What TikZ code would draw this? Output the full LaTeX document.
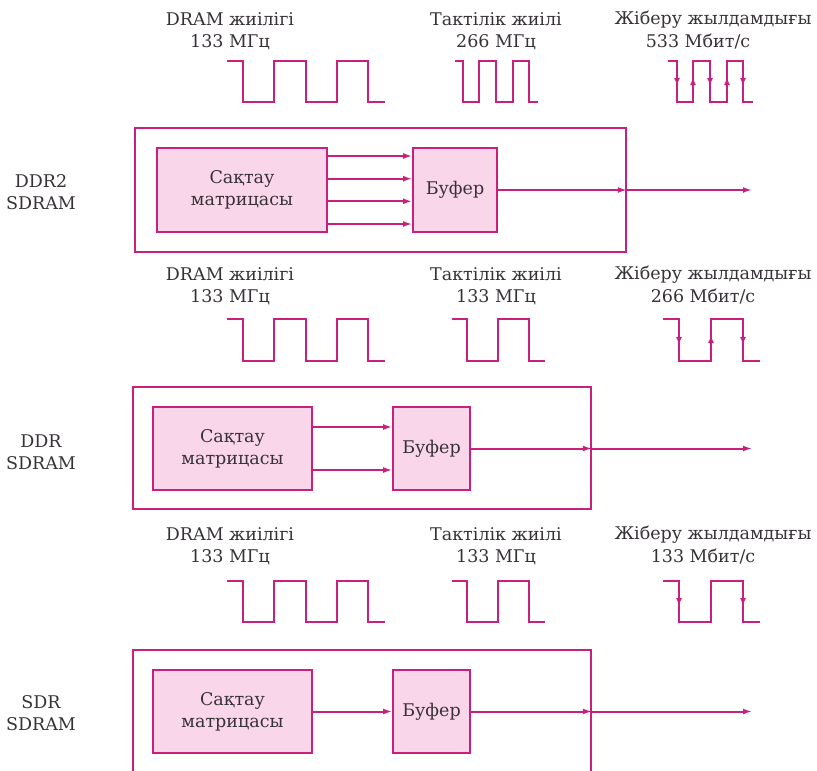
\documentclass[tikz,border=0pt]{standalone}
\usepackage{fontspec}
\setmainfont{DejaVu Serif}
\usetikzlibrary{arrows.meta}
\definecolor{wire}{RGB}{200,32,125}
\definecolor{cellfill}{RGB}{250,214,234}
\definecolor{ink}{RGB}{55,50,55}
\tikzset{
  lbl/.style={text=ink, font=\fontsize{17.5}{22}\selectfont, inner sep=0pt, align=center},
  frame/.style={draw=wire, line width=1.8pt, inner sep=0pt},
  cell/.style={draw=wire, fill=cellfill, line width=1.8pt, inner sep=0pt, text=ink,
               font=\fontsize{17.5}{22}\selectfont, align=center},
  wave/.style={draw=wire, line width=1.8pt, line join=miter},
  flow/.style={draw=wire, line width=2pt, -{Latex[length=9pt,width=6pt]}},
  edgetip/.style={draw=wire, line width=1.8pt, -{Latex[length=8pt,width=6pt]}}
}
\begin{document}
\begin{tikzpicture}[x=1pt,y=-1pt]
\useasboundingbox (0,0) rectangle (817,771);

% ---------------- DDR2 SDRAM ----------------
\node[lbl] (t1a) at (230,31) {DRAM жиілігі\\133 МГц};
\node[lbl] (t1b) at (496,31) {Тактілік жиілі\\266 МГц};
\node[lbl] (t1c) at (713,20) {Жіберу жылдамдығы};
\node[lbl] (t1d) at (698,42) {533 Мбит/с};

\draw[wave] (227,61) -| (243,102) -| (274,61) -| (306,102) -| (337,61) -| (368,102) -- (385,102);
\draw[wave] (455,61) -| (463,102) -| (479,61) -| (496,102) -| (513,61) -| (529,102) -- (538,102);
\draw[wave] (668,61) -| (677,102) -| (693,61) -| (710,102) -| (727,61) -| (743,102) -- (753,102);
\draw[edgetip] (677,61) -- (677,86);
\draw[edgetip] (693,102) -- (693,77);
\draw[edgetip] (710,61) -- (710,86);
\draw[edgetip] (727,102) -- (727,77);
\draw[edgetip] (743,61) -- (743,86);

\node[lbl] (s1) at (41,192) {DDR2\\SDRAM};
\node[frame, minimum width=491pt, minimum height=124pt] (f1) at (380.5,190) {};
\node[cell, minimum width=170pt, minimum height=84pt] (m1) at (242,190) {Сақтау\\матрицасы};
\node[cell, minimum width=84pt, minimum height=84pt] (b1) at (455,190) {Буфер};
\foreach \d in {34,11.3,-11.3,-34}
  \draw[flow] ([yshift=\d pt]m1.east) -- ([yshift=\d pt]b1.west);
\coordinate (o1) at (752,190);
\draw[flow] (b1.east) -- (b1.east -| f1.east);
\draw[flow] (b1.east -| f1.east) -- (o1);

% ---------------- DDR SDRAM ----------------
\node[lbl] (t2a) at (230,286) {DRAM жиілігі\\133 МГц};
\node[lbl] (t2b) at (496,286) {Тактілік жиілі\\133 МГц};
\node[lbl] (t2c) at (713,275) {Жіберу жылдамдығы};
\node[lbl] (t2d) at (703,297) {266 Мбит/с};

\draw[wave] (227,319) -| (243,361) -| (274,319) -| (306,361) -| (337,319) -| (368,361) -- (385,361);
\draw[wave] (452,319) -| (467,361) -| (498,319) -| (529,361) -- (545,361);
\draw[wave] (663,319) -| (679,361) -| (711,319) -| (743,361) -- (760,361);
\draw[edgetip] (679,319) -- (679,345);
\draw[edgetip] (711,361) -- (711,335);
\draw[edgetip] (743,319) -- (743,345);

\node[lbl] (s2) at (41,452) {DDR\\SDRAM};
\node[frame, minimum width=458pt, minimum height=122pt] (f2) at (362,448) {};
\node[cell, minimum width=159pt, minimum height=83pt] (m2) at (232.5,448.5) {Сақтау\\матрицасы};
\node[cell, minimum width=77pt, minimum height=83pt] (b2) at (431.5,448.5) {Буфер};
\foreach \d in {21.5,-21.5}
  \draw[flow] ([yshift=\d pt]m2.east) -- ([yshift=\d pt]b2.west);
\coordinate (o2) at (752,448.5);
\draw[flow] (b2.east) -- (b2.east -| f2.east);
\draw[flow] (b2.east -| f2.east) -- (o2);

% ---------------- SDR SDRAM ----------------
\node[lbl] (t3a) at (230,546) {DRAM жиілігі\\133 МГц};
\node[lbl] (t3b) at (496,546) {Тактілік жиілі\\133 МГц};
\node[lbl] (t3c) at (713,535) {Жіберу жылдамдығы};
\node[lbl] (t3d) at (703,557) {133 Мбит/с};

\draw[wave] (227,581) -| (243,622) -| (274,581) -| (306,622) -| (337,581) -| (368,622) -- (385,622);
\draw[wave] (452,581) -| (467,622) -| (498,581) -| (529,622) -- (545,622);
\draw[wave] (663,581) -| (679,622) -| (711,581) -| (743,622) -- (760,622);
\draw[edgetip] (679,581) -- (679,606);
\draw[edgetip] (743,581) -- (743,606);

\node[lbl] (s3) at (41,713) {SDR\\SDRAM};
\node[frame, minimum width=458pt, minimum height=123pt] (f3) at (362,711.5) {};
\node[cell, minimum width=159pt, minimum height=83pt] (m3) at (232.5,711.5) {Сақтау\\матрицасы};
\node[cell, minimum width=77pt, minimum height=83pt] (b3) at (431.5,711.5) {Буфер};
\draw[flow] (m3.east) -- (b3.west);
\coordinate (o3) at (752,711.5);
\draw[flow] (b3.east) -- (b3.east -| f3.east);
\draw[flow] (b3.east -| f3.east) -- (o3);
\end{tikzpicture}
\end{document}
